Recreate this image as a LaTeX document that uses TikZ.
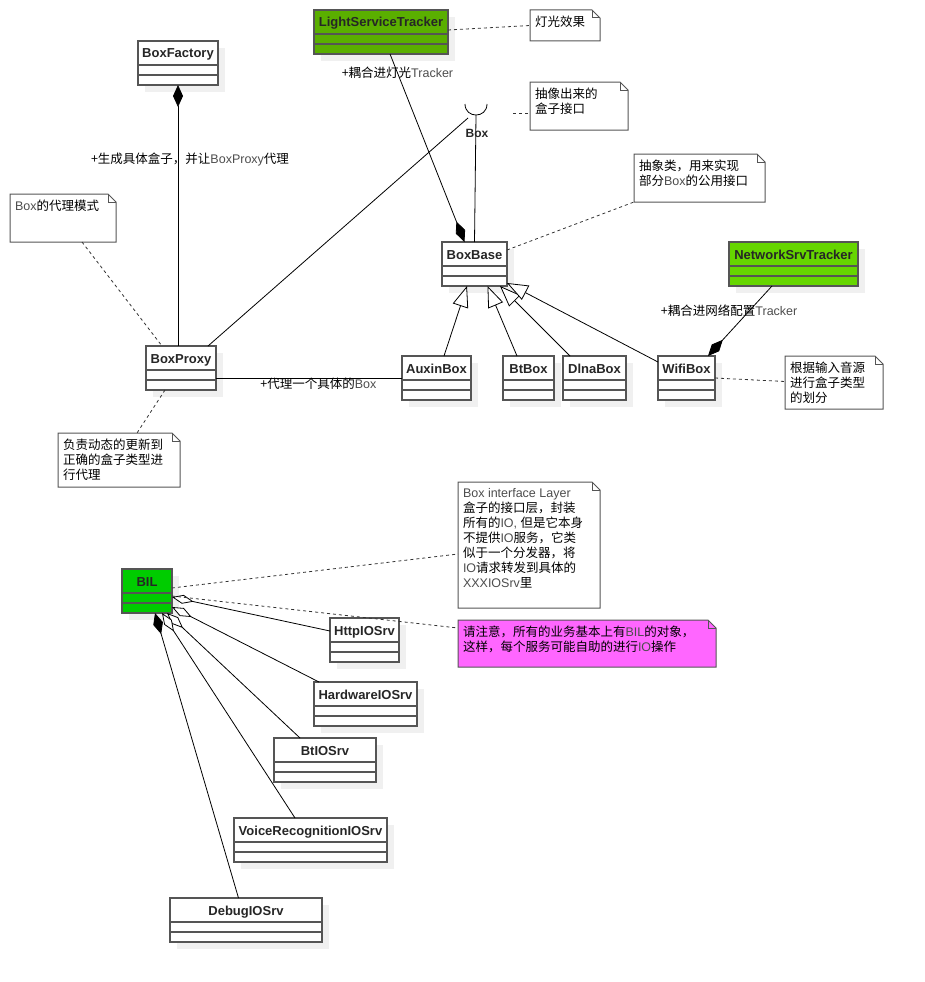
\documentclass[tikz,border=0pt]{standalone}
\usepackage{fontspec}
\setmainfont{Liberation Sans}
\newfontfamily\cjk{Noto Sans CJK SC}
\usepackage{xcolor}
\usepackage{tikz}
\usetikzlibrary{arrows.meta, positioning, shadows}
\definecolor{lightgreen}{HTML}{5AAF00}
\definecolor{netgreen}{HTML}{66D600}
\definecolor{bilgreen}{HTML}{00CC00}
\definecolor{notepink}{HTML}{FF66FF}
\definecolor{umlgray}{HTML}{555555}
\definecolor{latgray}{HTML}{4D4D4D}
\pgfdeclarelayer{background}
\pgfsetlayers{background,main}
\newcommand{\lat}[1]{{\normalfont\color{latgray}#1}}
\newcommand{\notebody}[3]{\parbox[t][\dimexpr#2pt-12pt\relax][t]{\dimexpr#1pt-10pt\relax}{\cjk\fontsize{12.5}{15}\selectfont #3}}
\newcommand{\notefold}[2]{%
  \begin{pgfonlayer}{background}
  \filldraw[noteline, fill=#2] (#1.south west) -- (#1.north west) -- ([xshift=-8pt]#1.north east)
    -- ([yshift=-8pt]#1.north east) -- (#1.south east) -- cycle;
  \draw[noteline] ([xshift=-8pt]#1.north east) -- ([xshift=-8pt,yshift=-8pt]#1.north east)
    -- ([yshift=-8pt]#1.north east);
  \end{pgfonlayer}}

\begin{document}
\begin{tikzpicture}[
    x=1pt, y=-1pt,
    cls/.style={
        rectangle,
        draw=umlgray,
        fill=white,
        line width=1.2pt,
        anchor=north west,
        inner sep=0pt,
        outer sep=0pt,
        text height=17pt,
        text depth=27pt,
        text=black!85,
        font=\fontsize{13}{15}\selectfont\bfseries,
        drop shadow={shadow xshift=7pt, shadow yshift=-7pt, opacity=1, fill=black!6, draw=none}
    },
    clsline/.style={draw=umlgray, line width=1.2pt},
    note/.style={
        anchor=north west,
        inner xsep=5pt,
        inner ysep=6pt,
        outer sep=0pt
    },
    noteline/.style={draw=umlgray, line width=1pt},
    assoc/.style={draw=black, line width=0.8pt},
    compo/.style={assoc, {Diamond[length=22pt, width=10pt]}-},
    compoend/.style={assoc, -{Diamond[length=22pt, width=10pt]}},
    aggr/.style={assoc, {Diamond[length=22pt, width=9pt, fill=white]}-},
    gen/.style={assoc, -{Triangle[length=21pt, width=16pt, fill=white]}},
    dotline/.style={draw=black!80, line width=0.8pt, dash pattern=on 3pt off 3pt},
    lbl/.style={font=\cjk\fontsize{12.5}{15}\selectfont, inner sep=1pt}
]
\useasboundingbox (0,0) rectangle (924,982);

% classes
\node[cls, fill=lightgreen, minimum width=134pt] (lst) at (314,10) {LightServiceTracker};
\node[cls, minimum width=80pt] (bfac) at (138,41) {BoxFactory};
\node[cls, minimum width=65pt] (boxbase) at (442,242) {BoxBase};
\node[cls, fill=netgreen, minimum width=129pt] (netst) at (729,242) {NetworkSrvTracker};
\node[cls, minimum width=70pt] (bproxy) at (146,346) {BoxProxy};
\node[cls, minimum width=69pt] (auxin) at (402,356) {AuxinBox};
\node[cls, minimum width=51pt] (btbox) at (503,356) {BtBox};
\node[cls, minimum width=63pt] (dlna) at (563,356) {DlnaBox};
\node[cls, minimum width=57pt] (wifi) at (658,356) {WifiBox};
\node[cls, fill=bilgreen, minimum width=50pt] (bil) at (122,569) {BIL};
\node[cls, minimum width=69pt] (http) at (330,618) {HttpIOSrv};
\node[cls, minimum width=103pt] (hw) at (314,682) {HardwareIOSrv};
\node[cls, minimum width=102pt] (btio) at (274,738) {BtIOSrv};
\node[cls, minimum width=153pt] (voice) at (234,818) {VoiceRecognitionIOSrv};
\node[cls, minimum width=152pt] (debug) at (170,898) {DebugIOSrv};

\foreach \c in {lst,bfac,boxbase,netst,bproxy,auxin,btbox,dlna,wifi,bil,http,hw,btio,voice,debug}
    \draw[clsline] ([yshift=-24pt]\c.north west) -- ([yshift=-24pt]\c.north east)
                   ([yshift=-34pt]\c.north west) -- ([yshift=-34pt]\c.north east);

% notes
\node[note] (nlight) at (530,10) {\notebody{70}{31}{灯光效果}};
\node[note] (nbox) at (530,82) {\notebody{98}{48}{抽像出来的\\盒子接口}};
\node[note] (nbase) at (634,154) {\notebody{131}{48}{抽象类，用来实现\\部分\lat{Box}的公用接口}};
\node[note] (nwifi) at (785,356) {\notebody{98}{53}{根据输入音源\\进行盒子类型\\的划分}};
\node[note] (nproxy) at (10,194) {\notebody{106}{48}{\lat{Box}的代理模式}};
\node[note] (nupdate) at (58,433) {\notebody{122}{54}{负责动态的更新到\\正确的盒子类型进\\行代理}};
\node[note] (nbil) at (458,482) {\notebody{142}{126}{\lat{Box interface Layer}\\盒子的接口层，封装\\所有的\lat{IO, }但是它本身\\不提供\lat{IO}服务，它类\\似于一个分发器，将\\\lat{IO}请求转发到具体的\\\lat{XXXIOSrv}里}};
\node[note] (nattn) at (458,620) {\notebody{258}{47}{请注意，所有的业务基本上有\lat{BIL}的对象，\\这样，每个服务可能自助的进行\lat{IO}操作}};
\notefold{nlight}{white}
\notefold{nbox}{white}
\notefold{nbase}{white}
\notefold{nwifi}{white}
\notefold{nproxy}{white}
\notefold{nupdate}{white}
\notefold{nbil}{white}
\notefold{nattn}{notepink}

% Box interface
\coordinate (sock) at (476,115);
\draw[assoc] ([xshift=-11pt,yshift=11pt]sock) .. controls ([xshift=-11pt,yshift=-3.7pt]sock)
    and ([xshift=11pt,yshift=-3.7pt]sock) .. ([xshift=11pt,yshift=11pt]sock);
\draw[assoc] (sock) -- (boxbase.north);
\draw[assoc] ([xshift=-8pt,yshift=-3pt]sock) -- ([xshift=-8pt]bproxy.north east);
\node[font=\fontsize{12}{14}\selectfont\bfseries, text=black!85] (boxlbl) at (477,133) {Box};

% associations
\draw[compo] (bfac.south) -- node[lbl, pos=0.285, xshift=12pt] (lblfac) {+生成具体盒子，并让\lat{BoxProxy}代理} (bfac.south |- bproxy.north);
\draw[compoend] ([xshift=9pt]lst.south) -- node[lbl, pos=0.1] (lbllight) {+耦合进灯光\lat{Tracker}} ([xshift=-10pt]boxbase.north);
\draw[compoend] ([xshift=-21.5pt]netst.south) -- node[lbl, pos=0.357, xshift=-20pt] (lblnet) {+耦合进网络配置\lat{Tracker}} ([xshift=-7pt]wifi.north east);
\draw[assoc] ([yshift=-10pt]bproxy.east) -- node[lbl, pos=0.55, below=-1pt] (lblproxy) {+代理一个具体的\lat{Box}} (auxin.west);

% generalization
\draw[gen] ([xshift=7.5pt]auxin.north) -- ([xshift=-7.5pt]boxbase.south);
\draw[gen] ([xshift=-11.5pt]btbox.north) -- ([xshift=13pt]boxbase.south);
\draw[gen] ([xshift=7pt]dlna.north west) -- ([xshift=-7pt]boxbase.south east);
\draw[gen] ([yshift=-6pt]wifi.north west) -- ([yshift=3pt]boxbase.south east);

% BIL services
\draw[aggr] ([yshift=-28pt]bil.north east) -- ([yshift=9pt]http.west);
\draw[aggr] ([yshift=-38pt]bil.north east) -- ([xshift=5pt]hw.north west);
\draw[aggr] ([xshift=-5pt]bil.south east) -- ([xshift=26pt]btio.north west);
\draw[aggr] ([xshift=-10pt]bil.south east) -- ([xshift=61pt]voice.north west);
\draw[compo] ([xshift=8pt]bil.south) -- ([xshift=-7.5pt]debug.north);

% note links
\draw[dotline] ([yshift=-20pt]lst.north east) -- (nlight.west);
\draw[dotline] ([xshift=37pt,yshift=2pt]sock) -- ([yshift=-7pt]nbox.west);
\draw[dotline] ([yshift=-8pt]boxbase.north east) -- (nbase.south west);
\draw[dotline] (wifi.east) -- ([yshift=1pt]nwifi.west);
\draw[dotline] ([xshift=19pt]nproxy.south) -- ([xshift=16pt]bproxy.north west);
\draw[dotline] ([xshift=-16pt]bproxy.south) -- ([xshift=18pt]nupdate.north);
\draw[dotline] ([yshift=-19pt]bil.north east) -- ([yshift=-9pt]nbil.west);
\draw[dotline] ([yshift=-27pt]bil.north east) -- ([yshift=15.5pt]nattn.west);

\end{tikzpicture}
\end{document}
